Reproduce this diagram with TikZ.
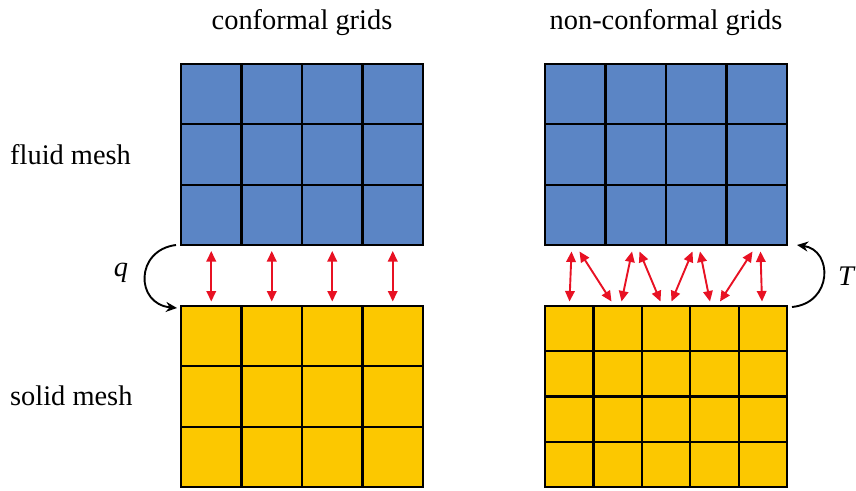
\documentclass[tikz,border=0pt]{standalone}
\usepackage{fontspec}
\setmainfont{Liberation Serif}
\usetikzlibrary{arrows.meta}
\definecolor{fluidblue}{RGB}{91,133,197}
\definecolor{solidyellow}{RGB}{252,200,0}
\definecolor{linkred}{RGB}{232,17,35}
\tikzset{
  lbl/.style={font=\fontsize{28.4}{32}\selectfont, inner sep=0pt},
  gridline/.style={draw=black, line width=2.2pt},
  link/.style={draw=linkred, line width=1.9pt, {Triangle[length=10.5pt,width=9.5pt]}-{Triangle[length=10.5pt,width=9.5pt]}},
  flux/.style={draw=black, line width=1.9pt, -{Stealth[length=11pt,width=10pt]}}
}
\begin{document}
\begin{tikzpicture}[x=1pt,y=-1pt]
\useasboundingbox (0,0) rectangle (856,490);
% titles
\node[lbl, anchor=base] (t1) at (302,29.5) {conformal grids};
\node[lbl, anchor=base] (t2) at (666,29.5) {non-conformal grids};
\node[lbl, anchor=base west] (fm) at (10,164) {fluid mesh};
\node[lbl, anchor=base west] (sm) at (10,405) {solid mesh};
% grids
\newcommand{\meshgrid}[7]{% x0,y0,x1,y1,ncols,nrows,color
  \fill[#7] (#1,#2) rectangle (#3,#4);
  \pgfmathsetmacro{\dx}{(#3-#1)/#5}
  \pgfmathsetmacro{\dy}{(#4-#2)/#6}
  \foreach \i in {1,...,#5}{\pgfmathsetmacro{\xx}{#1+\i*\dx-\dx}\draw[gridline] (\xx,#2) -- (\xx,#4);}
  \foreach \j in {1,...,#6}{\pgfmathsetmacro{\yy}{#2+\j*\dy-\dy}\draw[gridline] (#1,\yy) -- (#3,\yy);}
  \draw[gridline] (#1,#2) rectangle (#3,#4);
}
\meshgrid{181}{64}{423}{245}{4}{3}{fluidblue}
\meshgrid{181}{306}{423}{487}{4}{3}{solidyellow}
\meshgrid{545}{64}{787}{245}{4}{3}{fluidblue}
\meshgrid{545}{306}{787}{487}{5}{4}{solidyellow}
% conformal links
\foreach \k/\x in {1/211.25,2/271.75,3/332.25,4/392.75}{
  \coordinate (ca\k) at (\x,251);
  \coordinate (cb\k) at (\x,301.5);
  \draw[link] (ca\k) -- (cb\k);
}
% non-conformal links
\foreach \k/\xa/\xb in {1/571.5/569.5, 2/579.5/611.5, 3/632/621.5, 4/639.5/660.5, 5/692.5/671.5, 6/700/710, 7/752.5/720, 8/760.5/762}{
  \coordinate (na\k) at (\xa,251.5);
  \coordinate (nb\k) at (\xb,301.5);
  \draw[link] (na\k) -- (nb\k);
}
% heat flux / temperature arrows
\coordinate (qs) at (176,245);
\coordinate (qe) at (177,308);
\draw[flux] (qs) .. controls (135,250) and (135,304) .. (qe);
\node[lbl, font=\fontsize{28.4}{32}\selectfont\itshape] (q) at (121,273) {q};
\coordinate (ts) at (792,307);
\coordinate (te) at (797,245);
\draw[flux] (ts) .. controls (833,303) and (833,250) .. (te);
\node[lbl, font=\fontsize{28.4}{32}\selectfont\itshape] (T) at (846,276) {T};
\end{tikzpicture}
\end{document}
